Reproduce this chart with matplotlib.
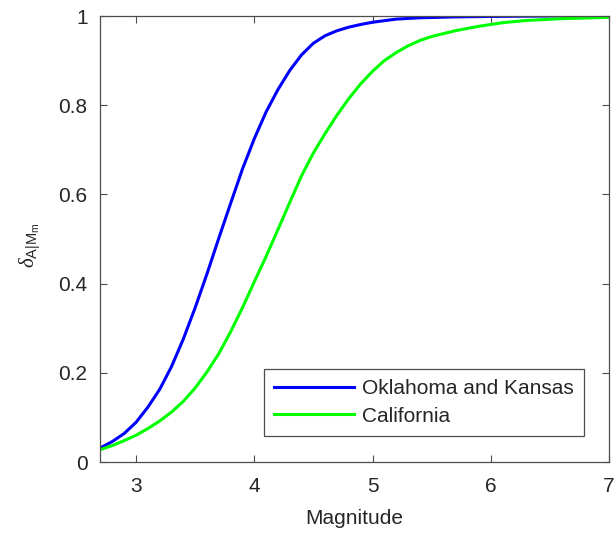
import numpy as np
import matplotlib
matplotlib.use("Agg")
import matplotlib.pyplot as plt

# ------------------------------------------
# Curve values
# ------------------------------------------
mag_ok = [2.70, 2.80, 2.90, 3.00, 3.10, 3.20, 3.30, 3.40, 3.50, 3.60, 3.70,
          3.80, 3.90, 4.00, 4.10, 4.20, 4.30, 4.40, 4.50, 4.60, 4.70, 4.80,
          4.90, 5.00, 5.20, 5.40, 5.70, 6.00, 6.50, 7.00]
prob_ok = [0.032, 0.046, 0.064, 0.089, 0.123, 0.163, 0.214, 0.276, 0.346, 0.422,
           0.502, 0.580, 0.657, 0.725, 0.785, 0.835, 0.878, 0.913, 0.939, 0.956,
           0.967, 0.975, 0.981, 0.986, 0.993, 0.996, 0.998, 0.999, 1.000, 1.000]

mag_ca = [2.70, 2.80, 2.90, 3.00, 3.10, 3.20, 3.30, 3.40, 3.50, 3.60, 3.70,
          3.80, 3.90, 4.00, 4.10, 4.20, 4.30, 4.40, 4.50, 4.60, 4.70, 4.80,
          4.90, 5.00, 5.10, 5.20, 5.30, 5.40, 5.50, 5.70, 5.90, 6.10, 6.30,
          6.60, 7.00]
prob_ca = [0.028, 0.037, 0.048, 0.060, 0.075, 0.092, 0.112, 0.136, 0.166, 0.202,
           0.243, 0.292, 0.346, 0.404, 0.461, 0.521, 0.582, 0.642, 0.693, 0.737,
           0.778, 0.815, 0.848, 0.876, 0.900, 0.918, 0.933, 0.945, 0.954, 0.967,
           0.977, 0.985, 0.990, 0.994, 0.997]

labels = ["Oklahoma and Kansas", "California"]
colors = ["#0000ff", "#00ff00"]

xticks = [3, 4, 5, 6, 7]
yticks = [0, 0.2, 0.4, 0.6, 0.8, 1]
yticklabels = ["0", "0.2", "0.4", "0.6", "0.8", "1"]

# ------------------------------------------
# Plot
# ------------------------------------------
plt.rcParams['font.family'] = ['Liberation Sans', 'DejaVu Sans']
plt.rcParams['mathtext.fontset'] = 'custom'
plt.rcParams['mathtext.rm'] = 'Liberation Sans'
plt.rcParams['mathtext.it'] = 'Liberation Serif:italic'

txt = '#262626'
axc = '#4d4d4d'
fs = 15

fig = plt.figure(figsize=(6.14, 5.34), dpi=100)
ax = fig.add_axes([100 / 614, 72 / 534, 509 / 614, 446 / 534])

ax.plot(mag_ok, prob_ok, color=colors[0], linewidth=2.2, label=labels[0])
ax.plot(mag_ca, prob_ca, color=colors[1], linewidth=2.2, label=labels[1])

ax.set_xlim(2.695, 7)
ax.set_ylim(0, 1)
ax.set_xticks(xticks)
ax.set_xticklabels([str(t) for t in xticks])
ax.set_yticks(yticks)
ax.set_yticklabels(yticklabels)

ax.tick_params(direction='in', top=True, right=True, length=5, width=0.8,
               colors=axc, labelcolor=txt, labelsize=fs)
ax.tick_params(axis='x', pad=11)
ax.tick_params(axis='y', pad=9)
for s in ax.spines.values():
    s.set_color(axc)
    s.set_linewidth(0.9)

ax.set_xlabel("Magnitude", fontsize=fs, color=txt, labelpad=9)
ax.set_ylabel(r"$\delta_{\rm A|M_m}$", fontsize=fs, color=txt)
ax.yaxis.set_label_coords(-0.112, 0.485)

leg = ax.legend(loc='lower right', bbox_to_anchor=(0.951, 0.058),
                borderaxespad=0, fontsize=fs, handlelength=3.8,
                handletextpad=0.4, labelspacing=0.4, borderpad=0.5,
                fancybox=False, framealpha=1)
leg.get_frame().set_edgecolor(axc)
leg.get_frame().set_linewidth(0.9)
for t in leg.get_texts():
    t.set_color(txt)

plt.savefig("out.png", dpi=100)
plt.close()
